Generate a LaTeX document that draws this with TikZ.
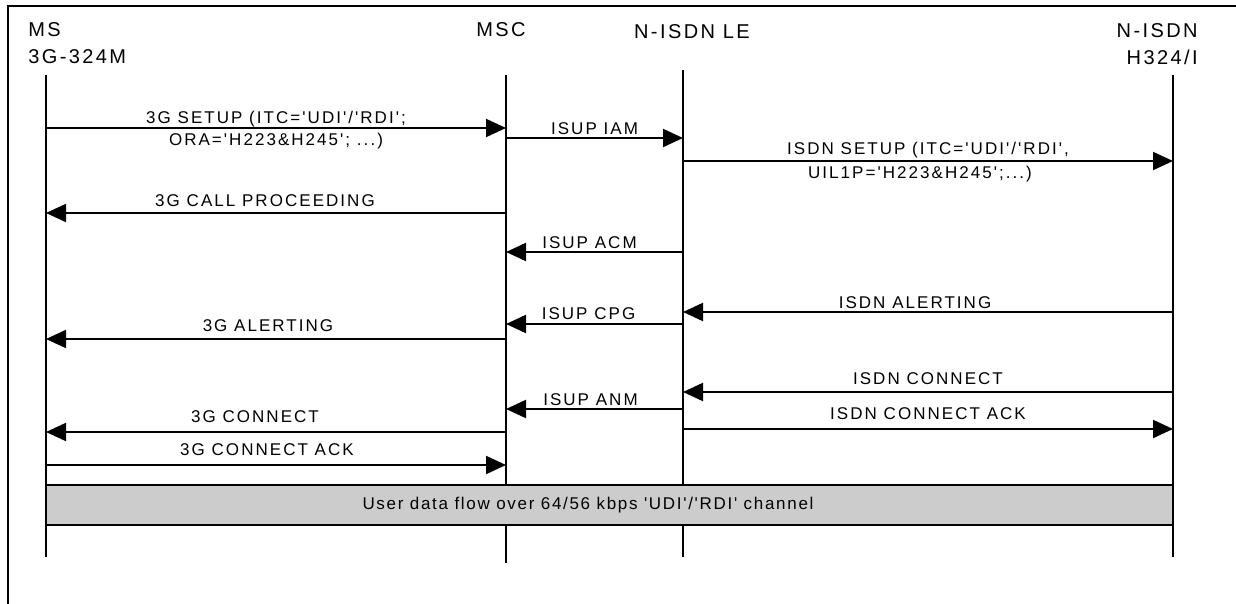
\documentclass[tikz,border=0pt]{standalone}
\usepackage{fontspec}
\setmainfont{Liberation Sans}
\newfontfamily\msgfont[LetterSpace=12]{Liberation Sans}
\newfontfamily\headfont[LetterSpace=12]{Liberation Sans}
\newfontfamily\flowfont[LetterSpace=10]{Liberation Sans}
\usetikzlibrary{arrows.meta}

\tikzset{
  frame/.style={line width=1.2pt},
  lifeline/.style={line width=1pt},
  msg/.style={line width=1pt, -{Triangle[length=10pt,width=9pt]}},
  lbl/.style={anchor=base, inner sep=0pt, font=\msgfont\fontsize{8.5}{10}\selectfont},
  head/.style={inner sep=0pt, font=\headfont\fontsize{10}{13.5}\selectfont},
  databox/.style={draw, line width=1.2pt, fill=black!20, inner sep=0pt,
    minimum width=563.5pt, minimum height=20pt},
  flowtext/.style={inner sep=0pt, font=\flowfont\fontsize{8.5}{10}\selectfont}
}

\begin{document}
\begin{tikzpicture}[x=0.5pt, y=-0.5pt]
  \useasboundingbox (0,0) rectangle (1236,604);

  %Frame
  \draw[frame] (8,604) -- (8,6) -- (1236,6);

  %Nodes
  \node[head, anchor=north west, align=left]  (ms-head)  at (28,22)   {MS\\3G-324M};
  \node[head, anchor=north]                   (msc-head) at (501,22)  {MSC};
  \node[head, anchor=north]                   (le-head)  at (692,24)  {N-ISDN LE};
  \node[head, anchor=north east, align=right] (te-head)  at (1198,23) {N-ISDN\\H324/I};

  \coordinate (ms-top)  at (46,75);   \coordinate (ms-bot)  at (46,557);
  \coordinate (msc-top) at (506,75);  \coordinate (msc-bot) at (506,563);
  \coordinate (le-top)  at (683,70);  \coordinate (le-bot)  at (683,557);
  \coordinate (te-top)  at (1173,75); \coordinate (te-bot)  at (1173,557);

  % one point on every lifeline for every message
  \foreach \r/\y in {setup/128, iam/138, isetup/161, cp/213, acm/252, ialert/312,
                     cpg/324, alert/339, iconn/392, anm/409, iack/429, conn/432, ack/465}
    \foreach \l/\x in {ms/46, msc/506, le/683, te/1173}
      \coordinate (\l-\r) at (\x,\y);

  %Lifelines
  \draw[lifeline] (ms-top) -- (ms-bot);
  \draw[lifeline] (msc-top) -- (msc-bot);
  \draw[lifeline] (le-top) -- (le-bot);
  \draw[lifeline] (te-top) -- (te-bot);

  %Messages
  \draw[msg] (ms-setup) -- (msc-setup)
    node[lbl, midway, yshift=2.2pt] (setup-a) {3G SETUP (ITC='UDI'/'RDI';}
    node[lbl, midway, yshift=-9pt]  (setup-b) {ORA='H223\&H245'; ...)};
  \draw[msg] (msc-iam) -- (le-iam)
    node[lbl, midway, yshift=1.5pt] (iam-l) {ISUP IAM};
  \draw[msg] (le-isetup) -- (te-isetup)
    node[lbl, midway, yshift=3pt]   (isetup-a) {ISDN SETUP (ITC='UDI'/'RDI',}
    node[lbl, midway, yshift=-9pt, xshift=-4pt] (isetup-b) {UIL1P='H223\&H245';...)};
  \draw[msg] (msc-cp) -- (ms-cp)
    node[lbl, midway, yshift=3.5pt, xshift=-5.5pt] (cp-l) {3G CALL PROCEEDING};
  \draw[msg] (le-acm) -- (msc-acm)
    node[lbl, midway, yshift=1.75pt, xshift=-2.5pt] (acm-l) {ISUP ACM};
  \draw[msg] (te-ialert) -- (le-ialert)
    node[lbl, midway, yshift=2pt, xshift=-6.5pt] (ialert-l) {ISDN ALERTING};
  \draw[msg] (le-cpg) -- (msc-cpg)
    node[lbl, midway, yshift=2.3pt, xshift=-3pt] (cpg-l) {ISUP CPG};
  \draw[msg] (msc-alert) -- (ms-alert)
    node[lbl, midway, yshift=4pt, xshift=-4pt] (alert-l) {3G ALERTING};
  \draw[msg] (te-iconn) -- (le-iconn)
    node[lbl, midway, yshift=4pt] (iconn-l) {ISDN CONNECT};
  \draw[msg] (le-anm) -- (msc-anm)
    node[lbl, midway, yshift=1.7pt, xshift=-2pt] (anm-l) {ISUP ANM};
  \draw[msg] (le-iack) -- (te-iack)
    node[lbl, midway, yshift=5pt] (iack-l) {ISDN CONNECT ACK};
  \draw[msg] (msc-conn) -- (ms-conn)
    node[lbl, midway, yshift=5pt, xshift=-10.5pt] (conn-l) {3G CONNECT};
  \draw[msg] (ms-ack) -- (msc-ack)
    node[lbl, midway, yshift=5pt, xshift=-4.5pt] (ack-l) {3G CONNECT ACK};

  %Data flow
  \node[databox] (flow) at (609.5,505) {};
  \node[flowtext] (flow-l) at (588,505)
    {User data flow over 64/56 kbps 'UDI'/'RDI' channel};
\end{tikzpicture}
\end{document}
